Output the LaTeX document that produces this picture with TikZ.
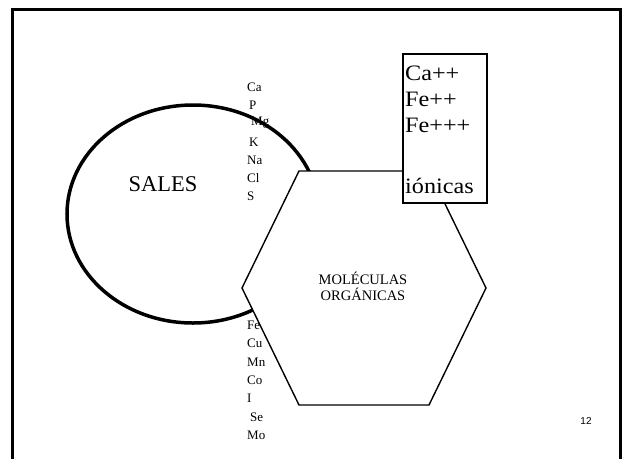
\documentclass[tikz,border=0pt]{standalone}
\usepackage{fontspec}
\setmainfont{Liberation Serif}
\setsansfont{Liberation Sans}
\newfontfamily\wideserif{Liberation Serif}[FakeStretch=1.1]
\usetikzlibrary{shapes.geometric}
\begin{document}
\begin{tikzpicture}[x=1pt,y=-1pt,
  elem/.style={anchor=west,inner sep=0pt,font=\fontsize{13}{14}\selectfont},
  ionlbl/.style={anchor=west,inner sep=0pt,font=\wideserif\fontsize{22}{22}\selectfont},
  frameline/.style={line width=3pt},
  thin/.style={line width=1.4pt}]
\useasboundingbox (0,0) rectangle (622,459);
% frame
\coordinate (fbl) at (12,459);
\coordinate (ftl) at (12,9.5);
\coordinate (ftr) at (620,9.5);
\coordinate (fbr) at (620,459);
\draw[frameline] (fbl) -- (ftl) -- (ftr) -- (fbr);
% upper element labels
\node[elem] (ca) at (247,87) {Ca};
\node[elem] (p) at (249,105) {P};
\node[elem] (mg) at (251,123) {Mg};
\node[elem] (k) at (249,142) {K};
\node[elem] (na) at (247,160) {Na};
\node[elem] (cl) at (247,178) {Cl};
\node[elem] (s) at (247,196) {S};
% ellipse
\node[draw,line width=3.5pt,ellipse,minimum width=252pt,minimum height=218pt,inner sep=0pt] (sales) at (193,214) {};
\node[font=\fontsize{22.5}{23}\selectfont] (salestxt) at (163,184) {SALES};
% lower element labels
\node[elem] (fe) at (247,325) {Fe};
\node[elem] (cu) at (247,343) {Cu};
\node[elem] (mn) at (247,362) {Mn};
\node[elem] (co) at (247,380) {Co};
\node[elem] (i) at (247,398) {I};
\node[elem] (se) at (250,417) {Se};
\node[elem] (mo) at (247,435) {Mo};
% hexagon
\coordinate (h1) at (299,171);
\coordinate (h2) at (429,171);
\coordinate (h3) at (486,288);
\coordinate (h4) at (429,405);
\coordinate (h5) at (299,405);
\coordinate (h6) at (242,288);
\draw[thin,fill=white] (h1) -- (h2) -- (h3) -- (h4) -- (h5) -- (h6) -- cycle;
\node[align=center,font=\fontsize{14.5}{16}\selectfont] (org) at (363,286) {MOLÉCULAS\\ORGÁNICAS};
% box
\node[draw,thin,fill=white,minimum width=84pt,minimum height=149pt,inner sep=0pt] (box) at (445,128.5) {};
\node[ionlbl] (ca2) at (405,73) {Ca++};
\node[ionlbl] (fe2) at (405,99) {Fe++};
\node[ionlbl] (fe3) at (405,125) {Fe+++};
\node[ionlbl] (ion) at (405,186) {iónicas};
% page number
\node[font=\sffamily\fontsize{10}{10}\selectfont] (num) at (586,421) {12};
\end{tikzpicture}
\end{document}
